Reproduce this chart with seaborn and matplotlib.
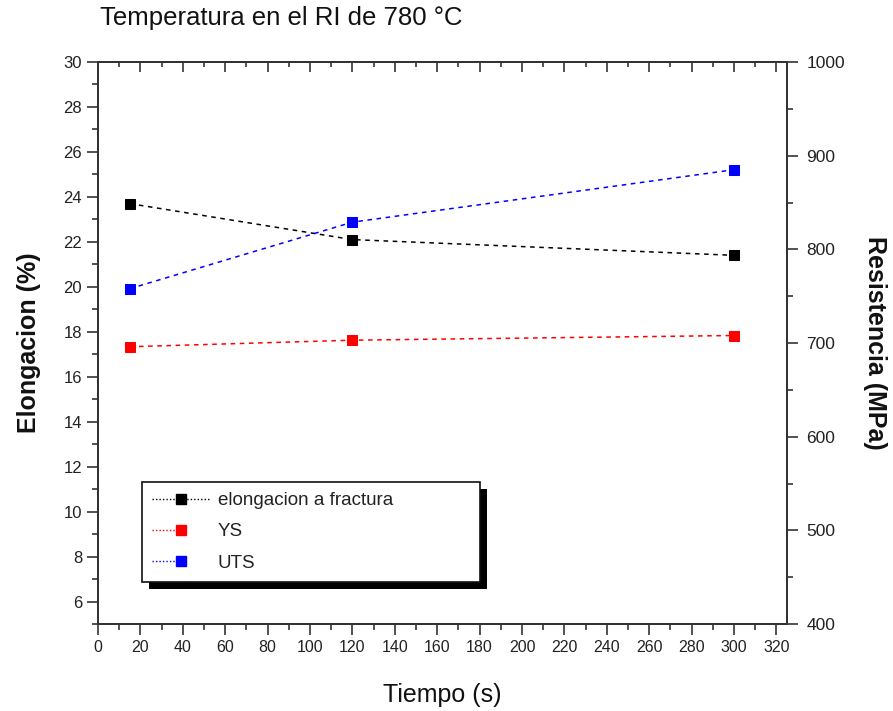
import matplotlib
matplotlib.use("Agg")
import matplotlib.pyplot as plt
from matplotlib.lines import Line2D
from matplotlib.patches import Rectangle
from matplotlib.transforms import IdentityTransform
from matplotlib.legend_handler import HandlerBase
from matplotlib.ticker import MultipleLocator
import seaborn as sns
import pandas as pd

# Data
tiempo = [15, 120, 300]
elongacion = [23.7, 22.1, 21.4]      # %
ys = [696, 703, 708]                 # MPa
uts = [758, 829, 885]                # MPa

labels = ["elongacion a fractura", "YS", "UTS"]
colors = ["#000000", "#ff0000", "#0000ff"]

sns.set_style("ticks")
plt.rcParams["font.family"] = ["Liberation Sans", "DejaVu Sans"]

fig = plt.figure(figsize=(8.93, 7.11), dpi=100)
ax = fig.add_axes([98 / 893, 1 - 624 / 711, 689 / 893, 562 / 711])
ax2 = ax.twinx()

dash = (0, (3, 3))
df = pd.DataFrame({"t": tiempo, "el": elongacion, "ys": ys, "uts": uts})

sns.lineplot(data=df, x="t", y="el", ax=ax, color=colors[0], marker="s",
             markersize=7.2, markeredgecolor=colors[0], linestyle=dash, lw=1.1)
sns.lineplot(data=df, x="t", y="ys", ax=ax2, color=colors[1], marker="s",
             markersize=7.2, markeredgecolor=colors[1], linestyle=dash, lw=1.1)
sns.lineplot(data=df, x="t", y="uts", ax=ax2, color=colors[2], marker="s",
             markersize=7.2, markeredgecolor=colors[2], linestyle=dash, lw=1.1)

ax.set_xlim(0, 325)
ax.set_ylim(5, 30)
ax2.set_ylim(400, 1000)

ax.xaxis.set_major_locator(MultipleLocator(20))
ax.xaxis.set_minor_locator(MultipleLocator(10))
ax.set_yticks(range(6, 31, 2))
ax.yaxis.set_minor_locator(MultipleLocator(1))
ax2.yaxis.set_major_locator(MultipleLocator(100))
ax2.yaxis.set_minor_locator(MultipleLocator(50))

spine_col = "#333333"
lab_col = "#222222"
for a in (ax, ax2):
    for s in a.spines.values():
        s.set_visible(True)
        s.set_color(spine_col)
        s.set_linewidth(1.4)

maj_len, min_len = 8, 4.5
ax.tick_params(axis="x", which="both", direction="out", bottom=True, top=False,
               colors=spine_col, labelcolor=lab_col, labelsize=11.5, width=1.2)
ax.tick_params(axis="x", which="major", length=maj_len)
ax.tick_params(axis="x", which="minor", length=min_len)
ax.tick_params(axis="y", which="both", direction="out", left=True, right=False,
               colors=spine_col, labelcolor=lab_col, labelsize=12, width=1.2)
ax.tick_params(axis="y", which="major", length=maj_len)
ax.tick_params(axis="y", which="minor", length=min_len)
ax2.tick_params(axis="y", which="both", direction="out", right=True, left=False,
                colors=spine_col, labelcolor=lab_col, labelsize=12.5, width=1.2)
ax2.tick_params(axis="y", which="major", length=maj_len, pad=6)
ax2.tick_params(axis="y", which="minor", length=min_len)

# inward ticks along the top edge
sec = ax.secondary_xaxis("top")
sec.xaxis.set_major_locator(MultipleLocator(20))
sec.xaxis.set_minor_locator(MultipleLocator(10))
sec.tick_params(axis="x", which="both", direction="in", labeltop=False,
                colors=spine_col, width=1.2)
sec.tick_params(axis="x", which="major", length=7)
sec.tick_params(axis="x", which="minor", length=3.5)
sec.spines["top"].set_color(spine_col)
sec.spines["top"].set_linewidth(1.4)

ax.set_xlabel("Tiempo (s)", fontsize=18, color="#111111", labelpad=20)
ax.set_ylabel("Elongacion (%)", fontsize=18, fontweight="bold", color="#111111", labelpad=16)
ax2.set_ylabel("Resistencia (MPa)", fontsize=18, fontweight="bold", color="#111111",
               rotation=270, labelpad=30)

fig.text(100 / 893, 1 - 6 / 711, "Temperatura en el RI de 780 °C", fontsize=18.5,
         color="#111111", ha="left", va="top")


class MarkerHandle(HandlerBase):
    """Dotted legend line with a square marker; optional line after the marker."""

    def __init__(self, tail):
        super().__init__()
        self.tail = tail

    def create_artists(self, legend, orig, xdescent, ydescent, width, height,
                       fontsize, trans):
        y = height / 2 - ydescent
        xm = -xdescent + width * 0.5
        x1 = -xdescent + width if self.tail else xm
        col = orig.get_color()
        line = Line2D([-xdescent, x1], [y, y], color=col, linestyle=(0, (1, 1.5)), lw=1.0)
        mk = Line2D([xm], [y], marker="s", markersize=7.2, color=col,
                    markeredgecolor=col, linestyle="none")
        line.set_transform(trans)
        mk.set_transform(trans)
        return [line, mk]


handles = [Line2D([], [], color=c) for c in colors]
hmap = {handles[0]: MarkerHandle(True), handles[1]: MarkerHandle(False),
        handles[2]: MarkerHandle(False)}
leg = ax2.legend(handles, labels, handler_map=hmap, loc="lower left",
                 bbox_to_anchor=(44 / 689, 42 / 562, 338 / 689, 0.2), mode="expand",
                 borderaxespad=0, fontsize=13.5, frameon=True, fancybox=False,
                 framealpha=1, edgecolor="#111111", handlelength=3.1,
                 handletextpad=0.4, labelspacing=0.75, borderpad=0.55)
leg.get_frame().set_linewidth(1.2)
for t in leg.get_texts():
    t.set_color(lab_col)
leg.set_zorder(10)

fig.canvas.draw()
bb = leg.get_window_extent()
shadow = Rectangle((bb.x0 + 7, bb.y0 - 7), bb.width, bb.height, transform=IdentityTransform(),
                   facecolor="black", edgecolor="none", zorder=9, clip_on=False)
ax2.add_artist(shadow)

fig.savefig("out.png", dpi=100, facecolor="white")
